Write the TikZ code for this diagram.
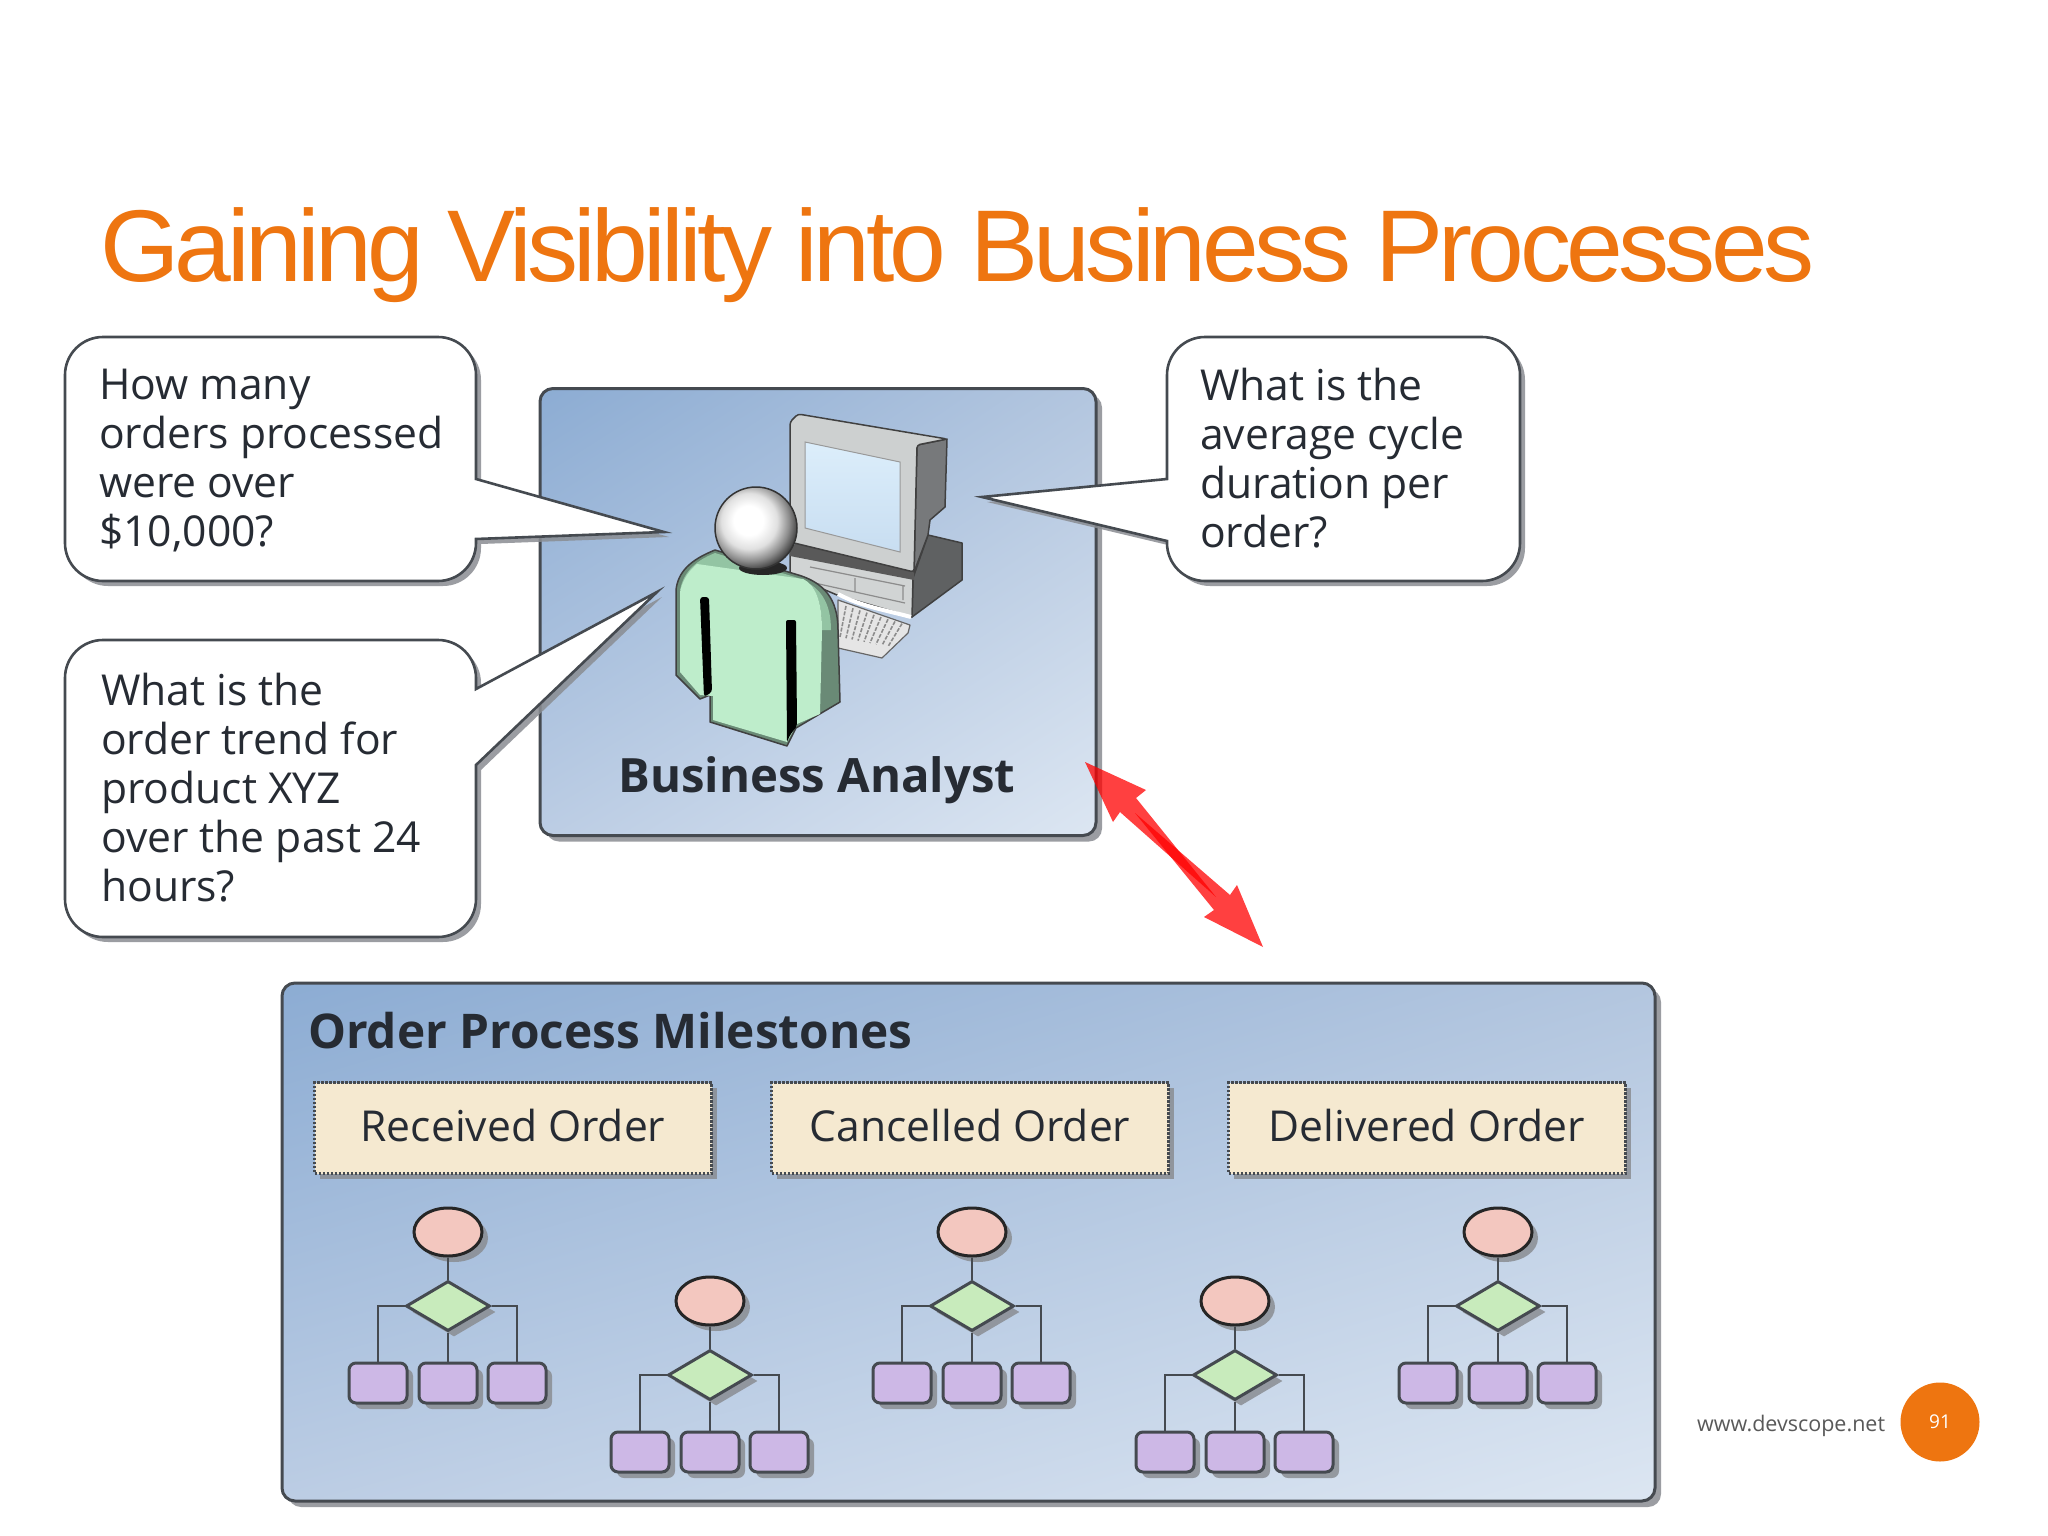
\documentclass[tikz,border=0pt]{standalone}
\usepackage{fontspec}
\setmainfont{Open Sans}
\newfontfamily\titlefont[LetterSpace=-4.55]{Liberation Sans}
\usetikzlibrary{shapes.geometric,shadows,shadings}
\definecolor{ink}{HTML}{262B33}
\definecolor{edge}{HTML}{454A50}
\definecolor{shade1}{HTML}{8A8D92}
\definecolor{orng}{HTML}{EE7510}
\definecolor{pan1}{HTML}{8CACD3}
\definecolor{pan2}{HTML}{B3C6DF}
\definecolor{pan3}{HTML}{BCCDE4}
\definecolor{pan4}{HTML}{DCE6F2}
\definecolor{tan1}{HTML}{F5E9D0}
\definecolor{pinkf}{HTML}{F3C7BF}
\definecolor{greenf}{HTML}{C8EBBC}
\definecolor{purplef}{HTML}{CDB8E6}
\definecolor{mint}{HTML}{BEEDCB}
\definecolor{mintm}{HTML}{93C4A3}
\definecolor{mintd}{HTML}{6A8A76}
\definecolor{monf}{HTML}{CDD0D0}
\definecolor{mons}{HTML}{77797B}
\definecolor{scrn}{HTML}{DCEEFB}
\pgfdeclareradialshading{headball}{\pgfpoint{-5bp}{5bp}}{
  color(0bp)=(white);color(9bp)=(white);color(17bp)=(black!12);color(24bp)=(black!45);color(31bp)=(black!85);color(100bp)=(black!85)}
\tikzset{
  softshadow/.style={drop shadow={shadow xshift=#1,shadow yshift=-#1,fill=shade1,opacity=.85}},
  panel/.style={draw=edge,line width=3pt,rounded corners=13pt,inner sep=0pt,shade,
    upper left=pan1,upper right=pan2,lower left=pan3,lower right=pan4,softshadow=6pt},
  callout/.style={draw=edge,line width=2.6pt,fill=white,softshadow=5pt},
  calltext/.style={anchor=west,align=left,inner sep=0pt,text=ink,font=\fontsize{42.6}{49}\selectfont},
  heading/.style={inner sep=0pt,text=ink,font=\fontsize{47.8}{50}\selectfont\bfseries},
  milestone/.style={draw=edge,dash pattern=on 2.5pt off 1.5pt,line width=3pt,fill=tan1,minimum width=397pt,minimum height=91pt,inner sep=0pt,
    text=ink,font=\fontsize{42.6}{49}\selectfont,softshadow=5pt},
  startev/.style={ellipse,draw=black!85,line width=3pt,fill=pinkf,minimum width=68pt,minimum height=48pt,inner sep=0pt,softshadow=6pt},
  choice/.style={diamond,draw=edge,line width=3pt,fill=greenf,minimum width=84pt,minimum height=50pt,inner sep=0pt,softshadow=6pt},
  task/.style={rectangle,rounded corners=7pt,draw=edge,line width=3pt,fill=purplef,minimum width=58pt,minimum height=40pt,inner sep=0pt,softshadow=6pt},
  link/.style={draw=edge,line width=2.6pt},
  body/.style={draw=black!75,line width=1.5pt,line join=round}
}
\begin{document}
\begin{tikzpicture}[x=1pt,y=-1pt]
\useasboundingbox (0,0) rectangle (2048,1536);
\fill[white] (0,0) rectangle (2048,1536);

% title
\node[anchor=base west,inner sep=0pt,text=orng,font=\fontsize{102}{110}\selectfont\titlefont] (title) at (100,281) {Gaining Visibility into Business Processes};

% analyst panel
\node[panel,minimum width=556pt,minimum height=447pt] (analyst) at (818,612) {};

% keyboard
\fill[black!10,draw=black!60,line width=1.2pt,line join=round] (838,600) -- (910,625) -- (908,633) -- (882,658) -- (838,648) -- cycle;
\foreach \k in {0,...,8}
  \draw[black!45,line width=1.6pt,dash pattern=on 4pt off 1.5pt] ({846+\k*7},{606+\k*2.2}) -- ({840+\k*6},{637+\k*1.2});

% computer base
\fill[mons!80!black,body] (913,578) -- (928,535) -- (962,543) -- (962,580) -- (912,617) -- cycle;
\fill[monf!92!white,body] (790,553) -- (913,578) -- (912,617) -- (837,595) -- (790,575) -- cycle;
\draw[white,line width=4pt] (838,594) .. controls (860,606) and (885,610) .. (911,617);
\draw[black!45,line width=1.2pt] (810,567) -- (905,586) (810,582) -- (905,603) (855,578) -- (855,592) (903,585) -- (903,600);
\fill[black!65] (790,548) -- (800,540) -- (914,567) -- (914,580) -- (790,556) -- cycle;

% monitor
\fill[mons,body] (917,445) -- (947,439) -- (945,507) -- (930,520) -- (928,535) -- (914,572) -- cycle;
\fill[monf,body,rounded corners=3pt] (790,422) -- (798,414) -- (947,439) -- (917,445) -- (914,572) -- (790,542) -- cycle;
\shade[top color=scrn,bottom color=scrn!75!pan1,draw=black!40,line width=1pt] (805,442) -- (900,462) -- (900,552) -- (805,528) -- cycle;

% person
\fill[mintd,body] (676,590) .. controls (678,572) and (690,560) .. (715,550) -- (795,574) .. controls (825,582) and (838,600) .. (838,630) -- (840,702) -- (796,728) -- (787,746) -- (710,722) -- (710,695) -- (700,699) -- (676,675) -- cycle;
\fill[mintm] (680,590) .. controls (683,575) and (692,562) .. (715,553) -- (795,577) .. controls (820,585) and (831,602) .. (831,630) -- (822,630) .. controls (822,600) and (815,585) .. (803,579) -- cycle;
\fill[mint] (680,592) .. controls (683,578) and (690,570) .. (697,564) -- (803,579) .. controls (815,585) and (822,600) .. (822,630) -- (820,714) -- (797,724) -- (787,742) -- (713,720) -- (713,696) -- (700,695) -- (680,672) -- cycle;
\fill[black,rounded corners=3pt] (700,597) -- (709,597) -- (712,692) -- (704,697) -- cycle;
\fill[black,rounded corners=2pt] (786,620) -- (796,620) -- (797,726) -- (790,735) -- (787,742) -- cycle;

% head
\fill[black!85] (763,568) ellipse [x radius=24,y radius=7];
\shade[draw=black!80,line width=1.5pt,shading=headball] (756,528) ellipse [x radius=41,y radius=41];

% label of the panel
\node[heading,font=\fontsize{47.3}{50}\selectfont\bfseries] (analystlabel) at (817,780) {Business Analyst};

% callouts
\draw[callout] (476,479) -- (664,532) -- (476,539) [rounded corners=38pt] -- (476,581) -- (65,581) -- (65,337) -- (476,337) [sharp corners] -- cycle;
\node[calltext] (q1) at (99,461) {How many\\orders processed\\were over\\\$10,000?};

\draw[callout] (476,689) -- (657,592) -- (476,765) [rounded corners=38pt] -- (476,937) -- (65,937) -- (65,640) -- (476,640) [sharp corners] -- cycle;
\node[calltext] (q2) at (101,788) {What is the\\order trend for\\product XYZ\\over the past 24\\hours?};

\draw[callout] (1167,479) -- (982,497) -- (1167,541) [rounded corners=38pt] -- (1167,581) -- (1520,581) -- (1520,337) -- (1167,337) [sharp corners] -- cycle;
\node[calltext] (q3) at (1200,458) {What is the\\average cycle\\duration per\\order?};

% red double arrow
\coordinate (tipA) at (1085,762);
\coordinate (tipB) at (1263,947);
\fill[red,opacity=.75] (tipA) -- (1146,790) -- (1136,798) -- (1216,897) -- (1120,812) -- (1113,822) -- cycle;
\fill[red,opacity=.75] (tipB) -- (1204,917) -- (1214,910) -- (1135,813) -- (1230,895) -- (1237,885) -- cycle;

% milestones panel
\node[panel,minimum width=1373pt,minimum height=518pt] (orders) at (968.5,1242) {};
\node[heading,anchor=base west] (orderslabel) at (308,1048) {Order Process Milestones};
\node[milestone] (m1) at (513,1128) {\raisebox{5pt}{Received Order}};
\node[milestone] (m2) at (970,1128) {\raisebox{5pt}{Cancelled Order}};
\node[milestone] (m3) at (1427,1128) {\raisebox{5pt}{Delivered Order}};

% flow charts
\foreach \cx/\ey [count=\i] in {448/1232,710/1301,972/1232,1235/1301,1498/1232}{
  \node[startev] (e\i) at (\cx,\ey) {};
  \node[choice] (d\i) at (\cx,\ey+74) {};
  \node[task] (a\i) at (\cx-70,\ey+151) {};
  \node[task] (b\i) at (\cx,\ey+151) {};
  \node[task] (c\i) at (\cx+69,\ey+151) {};
  \draw[link] (e\i) -- (d\i);
  \draw[link] (d\i) -- (b\i);
  \draw[link] (d\i.west) -| (a\i.north);
  \draw[link] (d\i.east) -| (c\i.north);
}

% footer
\node[anchor=base west,inner sep=0pt,text=black!65,font=\fontsize{21.5}{26}\selectfont] (url) at (1697,1431) {www.devscope.net};
\node[circle,fill=orng,minimum size=79pt,inner sep=0pt,text=white,font=\fontsize{19}{22}\selectfont] (page) at (1940,1422) {\raisebox{-3pt}{91}};
\end{tikzpicture}
\end{document}
